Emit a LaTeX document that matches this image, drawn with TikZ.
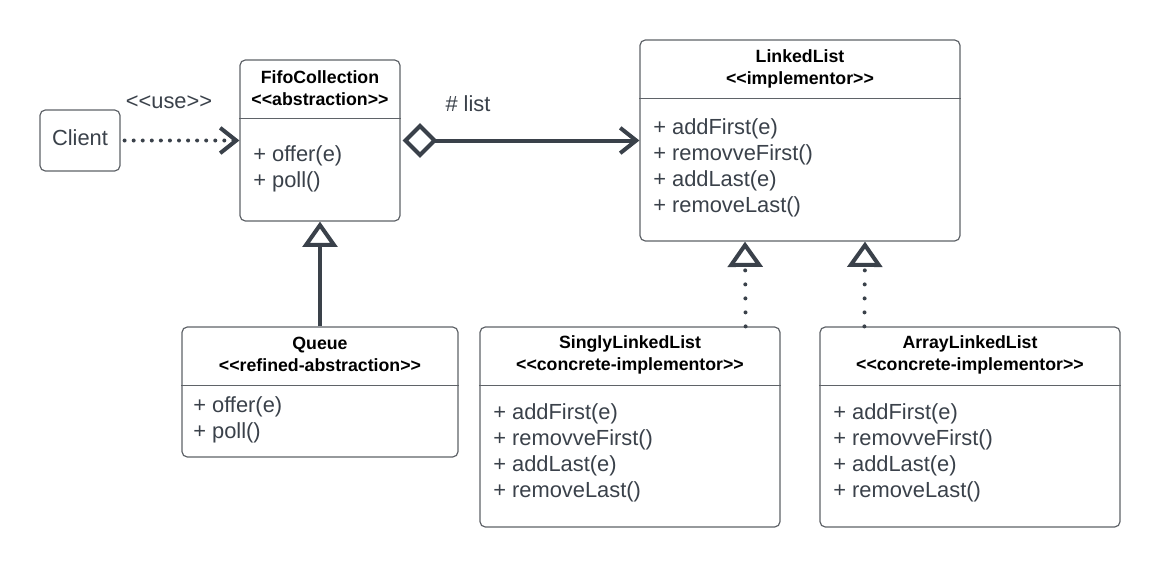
\documentclass[tikz,border=0pt]{standalone}
\usepackage{fontspec}
\setmainfont{Liberation Sans}
\usetikzlibrary{arrows.meta,calc}
\definecolor{ink}{HTML}{3A414A}
\definecolor{frame}{HTML}{5F6368}
\begin{document}
\begin{tikzpicture}[x=0.75pt,y=-0.75pt,
  cls/.style={draw=frame,line width=0.9pt,rounded corners=4pt,inner sep=0pt,fill=white},
  sepline/.style={draw=frame,line width=0.9pt},
  title/.style={font=\fontsize{13.3}{16.5}\selectfont\bfseries,text=black,align=center,inner sep=0pt},
  meth/.style={font=\fontsize{16.4}{19.5}\selectfont,text=ink,align=left,inner sep=0pt,anchor=west},
  lbl/.style={font=\fontsize{16.4}{19.5}\selectfont,text=ink,inner sep=0pt},
  conn/.style={draw=ink,line width=3pt},
  usedots/.style={conn,line cap=round,dash pattern=on 0pt off 6.8pt},
  impldots/.style={conn,line width=3pt,line cap=round,dash pattern=on 0pt off 10.5pt},
  openbarb/.style={-{Straight Barb[length=12pt,width=19pt,line width=3pt]}},
  inherit/.style={-{Triangle[open,length=19pt,width=26pt,line width=3pt,fill=white]}}
]
\useasboundingbox (0,0) rectangle (1160,567);

% Client
\node[cls,minimum width=60pt,minimum height=45.75pt] (client) at (80,140.5) {};
\node[lbl] (clientt) at (80,138) {Client};

% FifoCollection
\node[cls,minimum width=120pt,minimum height=120.75pt] (fifo) at (320,140.5) {};
\draw[sepline] ([yshift=-44.25pt]fifo.north west) -- ([yshift=-44.25pt]fifo.north east);
\node[title] (fifot) at (320,88) {FifoCollection\\<{}<abstraction>{}>};
\node[meth] (fifom) at (253,168.5) {+ offer(e)\\+ poll()};

% LinkedList
\node[cls,minimum width=240pt,minimum height=150.75pt] (ll) at (800,140.5) {};
\draw[sepline] ([yshift=-44.25pt]ll.north west) -- ([yshift=-44.25pt]ll.north east);
\node[title] (llt) at (800,69) {LinkedList\\<{}<implementor>{}>};
\node[meth] (llm) at (653,167.5) {+ addFirst(e)\\+ removveFirst()\\+ addLast(e)\\+ removeLast()};

% Queue
\node[cls,minimum width=207pt,minimum height=97.5pt] (queue) at (320,392) {};
\draw[sepline] ([yshift=-44.25pt]queue.north west) -- ([yshift=-44.25pt]queue.north east);
\node[title] (queuet) at (320,354.5) {Queue\\<{}<refined-abstraction>{}>};
\node[meth] (queuem) at (193,419.5) {+ offer(e)\\+ poll()};

% SinglyLinkedList
\node[cls,minimum width=225pt,minimum height=150pt] (sll) at (630,427) {};
\draw[sepline] ([yshift=-44.25pt]sll.north west) -- ([yshift=-44.25pt]sll.north east);
\node[title] (sllt) at (630,354.5) {SinglyLinkedList\\<{}<concrete-implementor>{}>};
\node[meth] (sllm) at (493,452.5) {+ addFirst(e)\\+ removveFirst()\\+ addLast(e)\\+ removeLast()};

% ArrayLinkedList
\node[cls,minimum width=225pt,minimum height=150pt] (all) at (970,427) {};
\draw[sepline] ([yshift=-44.25pt]all.north west) -- ([yshift=-44.25pt]all.north east);
\node[title] (allt) at (970,354.5) {ArrayLinkedList\\<{}<concrete-implementor>{}>};
\node[meth] (allm) at (833,452.5) {+ addFirst(e)\\+ removveFirst()\\+ addLast(e)\\+ removeLast()};

% connectors
\draw[usedots,openbarb] ([xshift=3pt]client.east) -- (fifo.west);
\node[lbl] (uselbl) at (169,102) {<{}<use>{}>};

\draw[conn,{Diamond[open,length=26pt,width=26pt,line width=3pt,fill=white]}-{Straight Barb[length=12pt,width=19pt,line width=3pt]}] ([xshift=1.5pt]fifo.east) -- (ll.west);
\node[lbl] (listlbl) at (468,104) {\# list};

\draw[conn,inherit] (queue.north) -- (fifo.south);

\draw[impldots,inherit] ([xshift=-26.25pt]sll.north east) -- ([xshift=-41.25pt]ll.south);
\draw[impldots,inherit] ([xshift=33.75pt]all.north west) -- ([xshift=48.75pt]ll.south);
\end{tikzpicture}
\end{document}
